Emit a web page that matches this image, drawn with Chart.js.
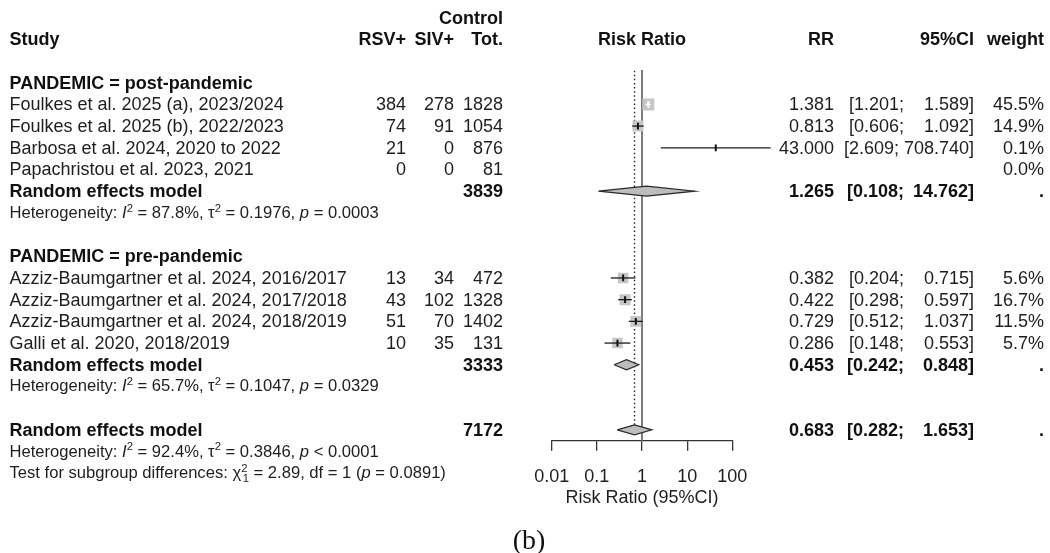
<!DOCTYPE html>
<html><head><meta charset="utf-8">
<script src="https://cdn.jsdelivr.net/npm/chart.js@4.4.1/dist/chart.umd.min.js"></script>
<style>
html,body{margin:0;padding:0;background:#fff;}
#wrap{position:relative;width:1050px;height:553px;overflow:hidden;background:#fff;}
#c{position:absolute;left:0;top:0;}
.t{position:absolute;white-space:pre;font-family:"Liberation Sans",Arial,sans-serif;font-size:18px;line-height:22px;height:22px;color:#1e1e1e;}
.b{font-weight:bold;color:#111;}
.s{font-size:16.6px;}
.t sup{font-size:0.68em;line-height:0;vertical-align:0;position:relative;top:-0.55em;}
.t sub{font-size:0.68em;line-height:0;vertical-align:0;position:relative;top:0.35em;margin-left:-0.42em;}
.serif{font-family:"Liberation Serif","Times New Roman",serif;font-size:28px;line-height:32px;height:32px;color:#111;}
</style></head><body>
<div id="wrap"><canvas id="c" width="1050" height="553" style="width:1050px;height:553px"></canvas><div id="txt"></div></div>
<script>
// ---------------- data ----------------
const groupNames = ["PANDEMIC = post-pandemic", "PANDEMIC = pre-pandemic"];
const studyLabels = [
  "Foulkes et al. 2025 (a), 2023/2024",
  "Foulkes et al. 2025 (b), 2022/2023",
  "Barbosa et al. 2024, 2020 to 2022",
  "Papachristou et al. 2023, 2021",
  "Azziz-Baumgartner et al. 2024, 2016/2017",
  "Azziz-Baumgartner et al. 2024, 2017/2018",
  "Azziz-Baumgartner et al. 2024, 2018/2019",
  "Galli et al. 2020, 2018/2019"
];
const studyGroup = [0, 0, 0, 0, 1, 1, 1, 1];
const rsvPos = [384, 74, 21, 0, 13, 43, 51, 10];
const sivPos = [278, 91, 0, 0, 34, 102, 70, 35];
const controlTot = [1828, 1054, 876, 81, 472, 1328, 1402, 131];
const rr = [1.381, 0.813, 43.000, null, 0.382, 0.422, 0.729, 0.286];
const rrLow = [1.201, 0.606, 2.609, null, 0.204, 0.298, 0.512, 0.148];
const rrHigh = [1.589, 1.092, 708.740, null, 0.715, 0.597, 1.037, 0.553];
const weightPct = [45.5, 14.9, 0.1, 0.0, 5.6, 16.7, 11.5, 5.7];

const groupTot = [3839, 3333];
const groupRR = [1.265, 0.453];
const groupLow = [0.108, 0.242];
const groupHigh = [14.762, 0.848];
const groupI2 = ["87.8%", "65.7%"];
const groupTau2 = ["0.1976", "0.1047"];
const groupP = ["= 0.0003", "= 0.0329"];

const overallTot = 7172;
const overallRR = 0.683, overallLow = 0.282, overallHigh = 1.653;
const overallI2 = "92.4%", overallTau2 = "0.3846", overallP = "< 0.0001";
const subgroupChi2 = "2.89", subgroupDf = 1, subgroupP = "0.0891";

const xTicks = [0.01, 0.1, 1, 10, 100];
const xTitle = "Risk Ratio (95%CI)";

// ---------------- layout ----------------
const W = 1050, H = 553;
const plotLeft = 551.7, plotRight = 732.3, plotTop = 70, plotBottom = 440.7;
const yMin = -0.585, yMax = 16.5;
const FONT = '"Liberation Sans", Arial, sans-serif';
const colRsv = 406, colSiv = 454, colTot = 503, colRR = 834, colLo = 904, colHi = 974, colW = 1044, colStudy = 9.5;

function rowOfStudy(i) {
  const g = studyGroup[i];
  let k = 0;
  for (let j = 0; j < i; j++) if (studyGroup[j] === g) k++;
  return g * 8 + 1 + k;
}
const maxW = Math.max(...weightPct);
function side(i) { return weightPct[i] >= 1 ? 9.5 + 2.5 * Math.sqrt(weightPct[i] / maxW) : 0; }
function inside(i, chart) {
  const xs = chart.scales.x;
  const w = xs.getPixelForValue(rrHigh[i]) - xs.getPixelForValue(rrLow[i]);
  return w < side(i);
}

// ---------------- datasets ----------------
const datasets = [];
datasets.push({type: 'line', data: [{x: 1, y: yMin}, {x: 1, y: yMax}], borderColor: '#666', borderWidth: 1.7,
  pointRadius: 0, order: 10, clip: false});
datasets.push({type: 'line', data: [{x: overallRR, y: yMin + 0.03}, {x: overallRR, y: 16}], borderColor: '#222',
  borderWidth: 1.4, borderDash: [1.5, 2.6], pointRadius: 0, order: 9, clip: false});

const sqIdx = studyLabels.map((_, i) => i).filter(i => rr[i] != null && weightPct[i] >= 1);
datasets.push({
  data: sqIdx.map(i => ({x: rr[i], y: rowOfStudy(i)})),
  pointStyle: 'rect', pointRadius: sqIdx.map(i => side(i) / (2 * Math.SQRT1_2)),
  backgroundColor: '#c6c6c6', pointBorderWidth: 0, borderWidth: 0, order: 8
});
studyLabels.forEach((_, i) => {
  if (rr[i] == null) return;
  datasets.push({type: 'line', data: [{x: rrLow[i], y: rowOfStudy(i)}, {x: rrHigh[i], y: rowOfStudy(i)}],
    borderColor: (ctx) => inside(i, ctx.chart) ? '#ffffff' : '#1a1a1a', borderWidth: 1.3,
    pointRadius: 0, order: 6, clip: false});
});
const estIdx = studyLabels.map((_, i) => i).filter(i => rr[i] != null);
datasets.push({
  data: estIdx.map(i => ({x: rr[i], y: rowOfStudy(i)})),
  pointStyle: 'line', pointRotation: 90, pointRadius: 3.4, pointBorderWidth: 2,
  pointBorderColor: (ctx) => inside(estIdx[ctx.dataIndex], ctx.chart) ? '#ffffff' : '#111111',
  order: 4
});
function diamond(lo, est, hi, row) {
  const h = 0.23;
  return [{x: lo, y: row}, {x: est, y: row - h}, {x: hi, y: row}, {x: est, y: row + h}, {x: lo, y: row}];
}
groupRR.forEach((v, g) => {
  datasets.push({type: 'line', data: diamond(groupLow[g], v, groupHigh[g], g * 8 + 5), borderColor: '#2a2a2a',
    borderWidth: 1.2, backgroundColor: '#bdbdbd', fill: 'shape', pointRadius: 0, tension: 0, order: 2, clip: false});
});
datasets.push({type: 'line', data: diamond(overallLow, overallRR, overallHigh, 16), borderColor: '#2a2a2a',
  borderWidth: 1.2, backgroundColor: '#bdbdbd', fill: 'shape', pointRadius: 0, tension: 0, order: 2, clip: false});

// ---------------- chart ----------------
const chart = new Chart(document.getElementById('c').getContext('2d'), {
  type: 'scatter',
  data: {datasets},
  options: {
    responsive: false, animation: false, events: [],
    plugins: {legend: {display: false}, tooltip: {enabled: false}},
    layout: {padding: {left: plotLeft, right: W - plotRight, top: plotTop, bottom: 60}},
    scales: {
      x: {
        type: 'logarithmic', min: xTicks[0], max: xTicks[xTicks.length - 1], position: 'bottom',
        border: {display: true, color: '#333', width: 1.3},
        grid: {drawOnChartArea: false, drawTicks: true, tickLength: 10, color: '#333', lineWidth: 1.3},
        afterBuildTicks: (axis) => { axis.ticks = xTicks.map(v => ({value: v})); },
        ticks: {color: '#1e1e1e', font: {family: FONT, size: 18}, padding: 16, autoSkip: false, maxRotation: 0,
          callback: (v) => String(v)},
        title: {display: false}
      },
      y: {type: 'linear', reverse: true, min: yMin, max: yMax, display: false}
    }
  }
});
const dy = chart.chartArea.bottom - plotBottom;
if (Math.abs(dy) > 0.1) { chart.options.layout.padding.bottom += dy; chart.update(); }

// ---------------- text ----------------
const txt = document.getElementById('txt');
const mctx = document.createElement('canvas').getContext('2d');
function textW(s, bold) { mctx.font = (bold ? 'bold ' : '') + '18px ' + FONT; return mctx.measureText(s).width; }
function put(html, x, y, align, cls) {
  const d = document.createElement('div');
  d.className = 't ' + (cls || '');
  d.innerHTML = html;
  d.style.top = (y - 11) + 'px';
  if (align === 'right') d.style.right = (W - x) + 'px';
  else if (align === 'center') { d.style.left = (x - 250) + 'px'; d.style.width = '500px'; d.style.textAlign = 'center'; }
  else d.style.left = x + 'px';
  txt.appendChild(d);
}
const Y = (r) => chart.scales.y.getPixelForValue(r);
const f3 = (v) => v.toFixed(3);
function putCI(lo, hi, y, cls) {
  const up = f3(hi) + ']';
  const bold = cls === 'b';
  const loRight = Math.min(colLo, colHi - textW(up, bold) - 5);
  put('[' + f3(lo) + ';', loRight, y, 'right', cls);
  put(up, colHi, y, 'right', cls);
}

put('Control', colTot, Y(-3), 'right', 'b');
put('Study', colStudy, Y(-2), 'left', 'b');
put('RSV+', colRsv, Y(-2), 'right', 'b');
put('SIV+', colSiv, Y(-2), 'right', 'b');
put('Tot.', colTot, Y(-2), 'right', 'b');
put('Risk Ratio', chart.scales.x.getPixelForValue(1), Y(-2), 'center', 'b');
put('RR', colRR, Y(-2), 'right', 'b');
put('95%CI', colHi, Y(-2), 'right', 'b');
put('weight', colW, Y(-2), 'right', 'b');

function het(i2, tau2, p) {
  return 'Heterogeneity: <i>I</i><sup>2</sup> = ' + i2 + ', \u03c4<sup>2</sup> = ' + tau2 + ', <i>p</i> ' + p;
}
groupNames.forEach((name, g) => {
  const base = g * 8;
  put(name, colStudy, Y(base), 'left', 'b');
  studyLabels.forEach((lab, i) => {
    if (studyGroup[i] !== g) return;
    const r = rowOfStudy(i);
    put(lab, colStudy, Y(r), 'left');
    put(String(rsvPos[i]), colRsv, Y(r), 'right');
    put(String(sivPos[i]), colSiv, Y(r), 'right');
    put(String(controlTot[i]), colTot, Y(r), 'right');
    if (rr[i] != null) {
      put(f3(rr[i]), colRR, Y(r), 'right');
      putCI(rrLow[i], rrHigh[i], Y(r), '');
    }
    put(weightPct[i].toFixed(1) + '%', colW, Y(r), 'right');
  });
  put('Random effects model', colStudy, Y(base + 5), 'left', 'b');
  put(String(groupTot[g]), colTot, Y(base + 5), 'right', 'b');
  put(f3(groupRR[g]), colRR, Y(base + 5), 'right', 'b');
  putCI(groupLow[g], groupHigh[g], Y(base + 5), 'b');
  put('.', colW, Y(base + 5), 'right', 'b');
  put(het(groupI2[g], groupTau2[g], groupP[g]), colStudy, Y(base + 6), 'left', 's');
});
put('Random effects model', colStudy, Y(16), 'left', 'b');
put(String(overallTot), colTot, Y(16), 'right', 'b');
put(f3(overallRR), colRR, Y(16), 'right', 'b');
putCI(overallLow, overallHigh, Y(16), 'b');
put('.', colW, Y(16), 'right', 'b');
put(het(overallI2, overallTau2, overallP), colStudy, Y(17), 'left', 's');
put('Test for subgroup differences: \u03c7<sup>2</sup><sub>' + subgroupDf + '</sub> = ' + subgroupChi2 +
  ', df = ' + subgroupDf + ' (<i>p</i> = ' + subgroupP + ')', colStudy, Y(18), 'left', 's');

// axis title under the x scale
put(xTitle, chart.scales.x.getPixelForValue(1), 497, 'center');

const cap = document.createElement('div');
cap.className = 'serif';
cap.style.position = 'absolute';
cap.style.left = '329px'; cap.style.width = '400px'; cap.style.textAlign = 'center';
cap.style.top = (540 - 16) + 'px';
cap.textContent = '(b)';
txt.appendChild(cap);
</script>
</body></html>
